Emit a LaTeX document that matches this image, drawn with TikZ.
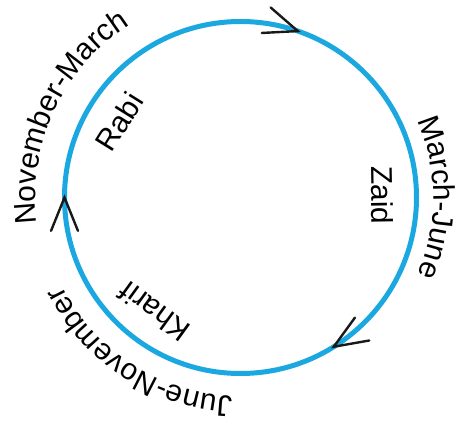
\documentclass[tikz,border=0pt]{standalone}
\usepackage{fontspec}
\setmainfont{Liberation Sans}
\usepackage{tikz}
\usetikzlibrary{decorations.text}
\definecolor{cycleblue}{RGB}{27,168,224}
\newcommand{\seasonfont}{\fontsize{30}{36}\selectfont}
\tikzset{
  season/.style={font=\seasonfont, inner sep=0pt},
  arrowhead/.style={draw=black!90, line width=2.4pt, line cap=round, line join=miter},
  monthsarc/.style={decorate, decoration={text along path, text align=center, text={|\seasonfont|#1}}},
}

\begin{document}
\begin{tikzpicture}[x=1pt, y=1pt]
\useasboundingbox (-240.5,-227.5) rectangle (227.5,197.5);
% crop cycle (clockwise)
\draw[cycleblue, line width=5pt] (0,0) circle (176);
% open arrowheads on the cycle
\foreach \a in {71,-58,180}{
  \draw[arrowhead, shift={(\a:176)}] (\a+112:36) -- (0,0) -- (\a+68:36);
}
% crop seasons (inside)
\node[season, rotate=58] (rabi) at (148:143) {Rabi};
\node[season, rotate=-89] (zaid) at (1:142) {Zaid};
\node[season, rotate=144] (kharif) at (-127:143) {Kharif};
% months (outside, along the circle)
\path[monthsarc=November-March] (200:205) arc[start angle=200, end angle=110, radius=205];
\path[monthsarc=March-June] (45:193) arc[start angle=45, end angle=-45, radius=193];
\path[monthsarc=June-November] (-78:199) arc[start angle=-78, end angle=-168, radius=199];
\end{tikzpicture}
\end{document}
